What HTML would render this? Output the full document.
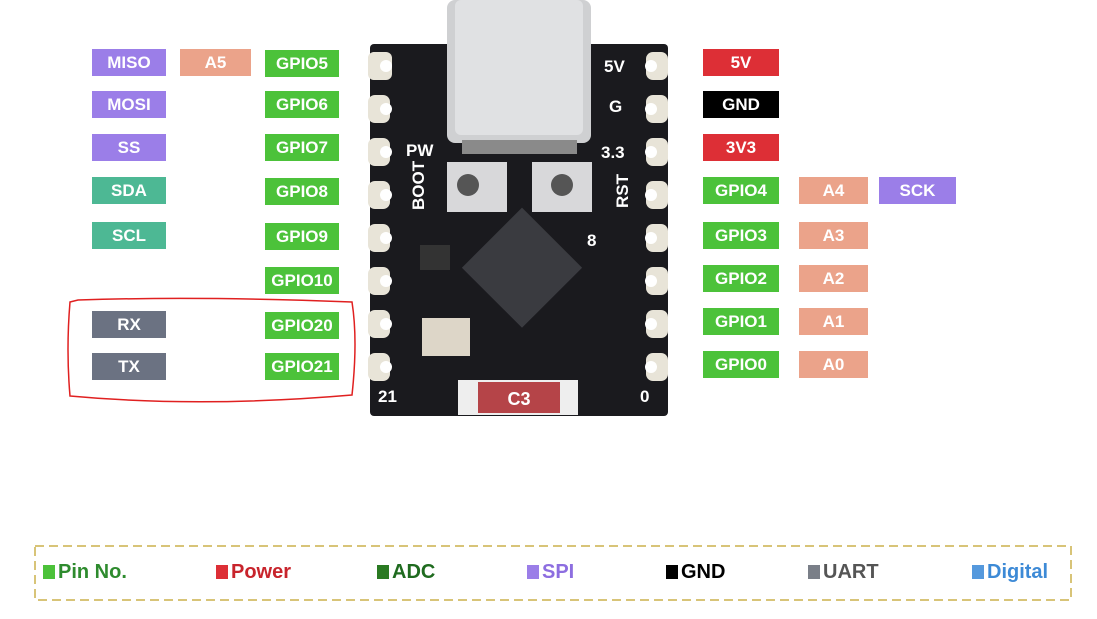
<!DOCTYPE html>
<html><head><meta charset="utf-8"><style>
body{margin:0;width:1097px;height:619px;background:#fff;position:relative;overflow:hidden;font-family:"Liberation Sans",sans-serif}
.l{position:absolute;height:27px;line-height:27px;color:#fff;font-weight:bold;font-size:17px;text-align:center}
.p{background:#9b7ee8}.t{background:#4db894}.g{background:#4cc23a}.a{background:#eba38a}.u{background:#6b7282}.r{background:#dd2f36}.k{background:#000}
.lg{position:absolute;top:561px;font-size:20px;font-weight:bold;}
.sq{display:inline-block;width:12px;height:14px;margin-right:3px;vertical-align:-1px}
</style></head><body>
<div class="l p" style="left:92px;top:49px;width:74px">MISO</div>
<div class="l p" style="left:92px;top:91px;width:74px">MOSI</div>
<div class="l p" style="left:92px;top:134px;width:74px">SS</div>
<div class="l t" style="left:92px;top:177px;width:74px">SDA</div>
<div class="l t" style="left:92px;top:222px;width:74px">SCL</div>
<div class="l u" style="left:92px;top:311px;width:74px">RX</div>
<div class="l u" style="left:92px;top:353px;width:74px">TX</div>
<div class="l a" style="left:180px;top:49px;width:71px">A5</div>
<div class="l g" style="left:265px;top:50px;width:74px">GPIO5</div>
<div class="l g" style="left:265px;top:91px;width:74px">GPIO6</div>
<div class="l g" style="left:265px;top:134px;width:74px">GPIO7</div>
<div class="l g" style="left:265px;top:178px;width:74px">GPIO8</div>
<div class="l g" style="left:265px;top:223px;width:74px">GPIO9</div>
<div class="l g" style="left:265px;top:267px;width:74px">GPIO10</div>
<div class="l g" style="left:265px;top:312px;width:74px">GPIO20</div>
<div class="l g" style="left:265px;top:353px;width:74px">GPIO21</div>
<div class="l r" style="left:703px;top:49px;width:76px">5V</div>
<div class="l k" style="left:703px;top:91px;width:76px">GND</div>
<div class="l r" style="left:703px;top:134px;width:76px">3V3</div>
<div class="l g" style="left:703px;top:177px;width:76px">GPIO4</div>
<div class="l g" style="left:703px;top:222px;width:76px">GPIO3</div>
<div class="l g" style="left:703px;top:265px;width:76px">GPIO2</div>
<div class="l g" style="left:703px;top:308px;width:76px">GPIO1</div>
<div class="l g" style="left:703px;top:351px;width:76px">GPIO0</div>
<div class="l a" style="left:799px;top:177px;width:69px">A4</div>
<div class="l a" style="left:799px;top:222px;width:69px">A3</div>
<div class="l a" style="left:799px;top:265px;width:69px">A2</div>
<div class="l a" style="left:799px;top:308px;width:69px">A1</div>
<div class="l a" style="left:799px;top:351px;width:69px">A0</div>
<div class="l p" style="left:879px;top:177px;width:77px">SCK</div>
<svg width="1097" height="619" style="position:absolute;left:0;top:0">
<path d="M78 300 Q200 296 352 302 Q358 340 352 395 Q200 408 70 396 Q66 350 70 302 Z" fill="none" stroke="#e02020" stroke-width="1.5"/>
<rect x="370" y="44" width="298" height="372" rx="4" fill="#1a1a1e"/>
<g fill="#e8e4d8">
<g id="ph"><rect x="368" y="52" width="24" height="28" rx="6"/></g>
</g>
<g fill="#e8e4d8">
<rect x="368" y="52" width="22" height="28" rx="7"/><rect x="368" y="95" width="22" height="28" rx="7"/><rect x="368" y="138" width="22" height="28" rx="7"/><rect x="368" y="181" width="22" height="28" rx="7"/><rect x="368" y="224" width="22" height="28" rx="7"/><rect x="368" y="267" width="22" height="28" rx="7"/><rect x="368" y="310" width="22" height="28" rx="7"/><rect x="368" y="353" width="22" height="28" rx="7"/>
<rect x="646" y="52" width="22" height="28" rx="7"/><rect x="646" y="95" width="22" height="28" rx="7"/><rect x="646" y="138" width="22" height="28" rx="7"/><rect x="646" y="181" width="22" height="28" rx="7"/><rect x="646" y="224" width="22" height="28" rx="7"/><rect x="646" y="267" width="22" height="28" rx="7"/><rect x="646" y="310" width="22" height="28" rx="7"/><rect x="646" y="353" width="22" height="28" rx="7"/>
</g>
<g fill="#fff"><circle cx="386" cy="66" r="6"/><circle cx="386" cy="109" r="6"/><circle cx="386" cy="152" r="6"/><circle cx="386" cy="195" r="6"/><circle cx="386" cy="238" r="6"/><circle cx="386" cy="281" r="6"/><circle cx="386" cy="324" r="6"/><circle cx="386" cy="367" r="6"/>
<circle cx="651" cy="66" r="6"/><circle cx="651" cy="109" r="6"/><circle cx="651" cy="152" r="6"/><circle cx="651" cy="195" r="6"/><circle cx="651" cy="238" r="6"/><circle cx="651" cy="281" r="6"/><circle cx="651" cy="324" r="6"/><circle cx="651" cy="367" r="6"/></g>
<rect x="447" y="0" width="144" height="143" rx="8" fill="#cfd0d2"/>
<rect x="455" y="0" width="128" height="135" rx="6" fill="#e0e1e3"/>
<rect x="462" y="140" width="115" height="14" fill="#8a8a8a"/>
<rect x="447" y="162" width="60" height="50" fill="#d8d8da"/><circle cx="468" cy="185" r="11" fill="#555"/>
<rect x="532" y="162" width="60" height="50" fill="#d8d8da"/><circle cx="562" cy="185" r="11" fill="#555"/>
<rect x="480" y="225" width="85" height="85" transform="rotate(45 522 267)" fill="#3a3b40"/>
<rect x="422" y="318" width="48" height="38" fill="#ddd6c8"/>
<rect x="420" y="245" width="30" height="25" fill="#333"/>
<rect x="458" y="380" width="120" height="35" fill="#eee"/>
<rect x="478" y="382" width="82" height="31" fill="#b54448"/>
<text x="519" y="405" font-size="18" font-weight="bold" fill="#fff" text-anchor="middle" font-family="Liberation Sans">C3</text>
<g fill="#fff" font-family="Liberation Sans" font-weight="bold" font-size="17">
<text x="604" y="72">5V</text><text x="609" y="112">G</text><text x="601" y="158">3.3</text><text x="406" y="156">PW</text>
<text x="378" y="402">21</text><text x="640" y="402">0</text><text x="587" y="246">8</text>
<text x="424" y="210" transform="rotate(-90 424 210)">BOOT</text><text x="628" y="208" transform="rotate(-90 628 208)">RST</text>
</g>
<rect x="35" y="546" width="1036" height="54" fill="none" stroke="#d8c478" stroke-width="2" stroke-dasharray="9,5"/>
</svg>
<div class="lg" style="left:43px;color:#2e8b2e"><span class="sq" style="background:#4cc23a"></span>Pin No.</div>
<div class="lg" style="left:216px;color:#c8242c"><span class="sq" style="background:#dd2f36"></span>Power</div>
<div class="lg" style="left:377px;color:#1f6b1f"><span class="sq" style="background:#2a7a22"></span>ADC</div>
<div class="lg" style="left:527px;color:#8d6ee0"><span class="sq" style="background:#9b7ee8"></span>SPI</div>
<div class="lg" style="left:666px;color:#000"><span class="sq" style="background:#000"></span>GND</div>
<div class="lg" style="left:808px;color:#555"><span class="sq" style="background:#7a7f88"></span>UART</div>
<div class="lg" style="left:972px;color:#3d8ad6"><span class="sq" style="background:#5599dd"></span>Digital</div>
</body></html>
